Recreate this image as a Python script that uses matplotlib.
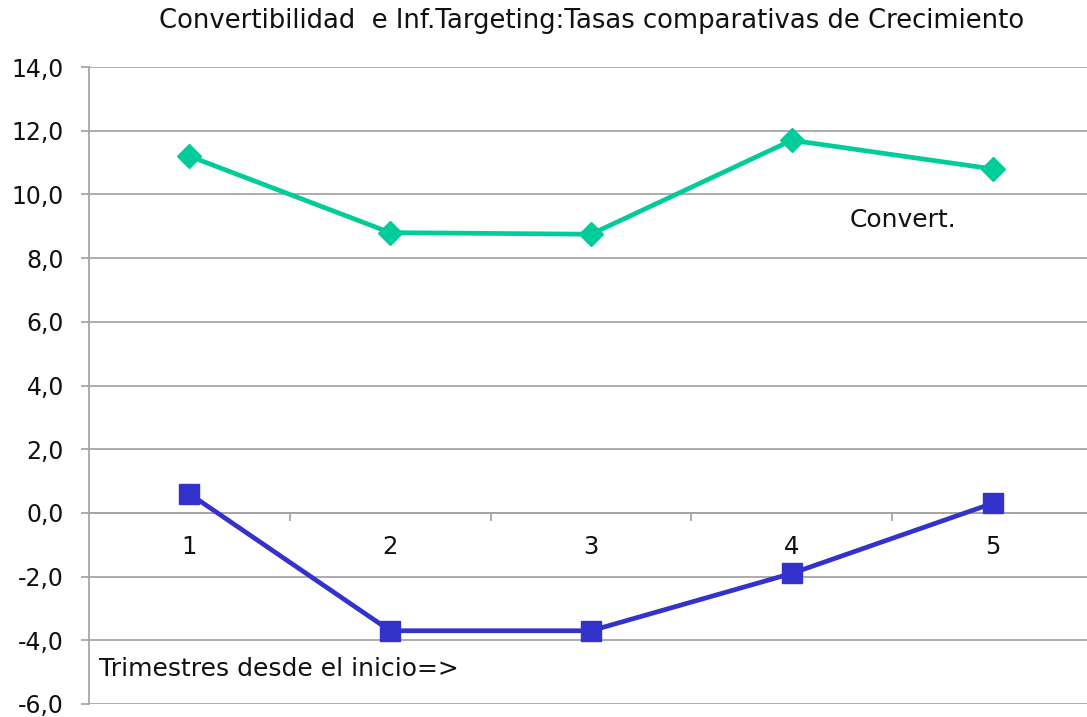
import matplotlib
matplotlib.use("Agg")
import matplotlib.pyplot as plt
from matplotlib.ticker import FuncFormatter, FixedLocator

plt.rcParams['font.family'] = ['DejaVu Sans']

quarters = [1, 2, 3, 4, 5]
quarter_labels = ["1", "2", "3", "4", "5"]
convert = [11.2, 8.8, 8.75, 11.7, 10.8]
inflation_targeting = [0.6, -3.7, -3.7, -1.9, 0.3]
yticks = [-6, -4, -2, 0, 2, 4, 6, 8, 10, 12, 14]

W, H = 1087, 717
fig = plt.figure(figsize=(W / 100, H / 100), dpi=100)
left_px, right_px, top_px, bot_px = 89, 1093, 67, 704
ax = fig.add_axes([left_px / W, 1 - bot_px / H, (right_px - left_px) / W, (bot_px - top_px) / H])

grid_c = '#A6A6A6'
txt_c = '#111111'
ax.set_ylim(-6, 14)
ax.set_xlim(0.5, 5.5)
ax.yaxis.set_major_locator(FixedLocator(yticks))
ax.yaxis.set_major_formatter(FuncFormatter(lambda v, p: f"{v:.1f}".replace('.', ',')))
ax.grid(axis='y', color=grid_c, linewidth=1.3)
ax.set_axisbelow(True)

for s in ['top', 'right']:
    ax.spines[s].set_visible(False)
ax.spines['left'].set_color(grid_c)
ax.spines['left'].set_linewidth(1.3)
ax.spines['bottom'].set_position(('data', 0))
ax.spines['bottom'].set_color(grid_c)
ax.spines['bottom'].set_linewidth(1.3)

ax.tick_params(axis='y', length=6, width=1.3, color=grid_c, labelsize=17, pad=12, labelcolor=txt_c)
ax.set_xticks(quarters)
ax.set_xticklabels(quarter_labels)
ax.tick_params(axis='x', which='major', length=0, labelsize=17.5, pad=16, labelcolor=txt_c)
ax.set_xticks([1.5, 2.5, 3.5, 4.5], minor=True)
ax.tick_params(axis='x', which='minor', length=6, width=1.3, color=grid_c, direction='out')

ax.plot(quarters, convert, color='#00CC99', linewidth=3.4, marker='D', markersize=12, zorder=3, clip_on=False)
ax.plot(quarters, inflation_targeting, color='#3333CC', linewidth=3.4, marker='s', markersize=14, zorder=3, clip_on=False)

ax.text(4.29, 9.2, "Convert.", fontsize=18, va='center', ha='left', color=txt_c)
ax.text(0.55, -4.9, "Trimestres desde el inicio=>", fontsize=18, va='center', ha='left', color=txt_c)

fig.text(592 / W, 1 - 21 / H, "Convertibilidad  e Inf.Targeting:Tasas comparativas de Crecimiento",
         fontsize=18.6, ha='center', va='center', color=txt_c)

fig.savefig("out.png", dpi=100)
